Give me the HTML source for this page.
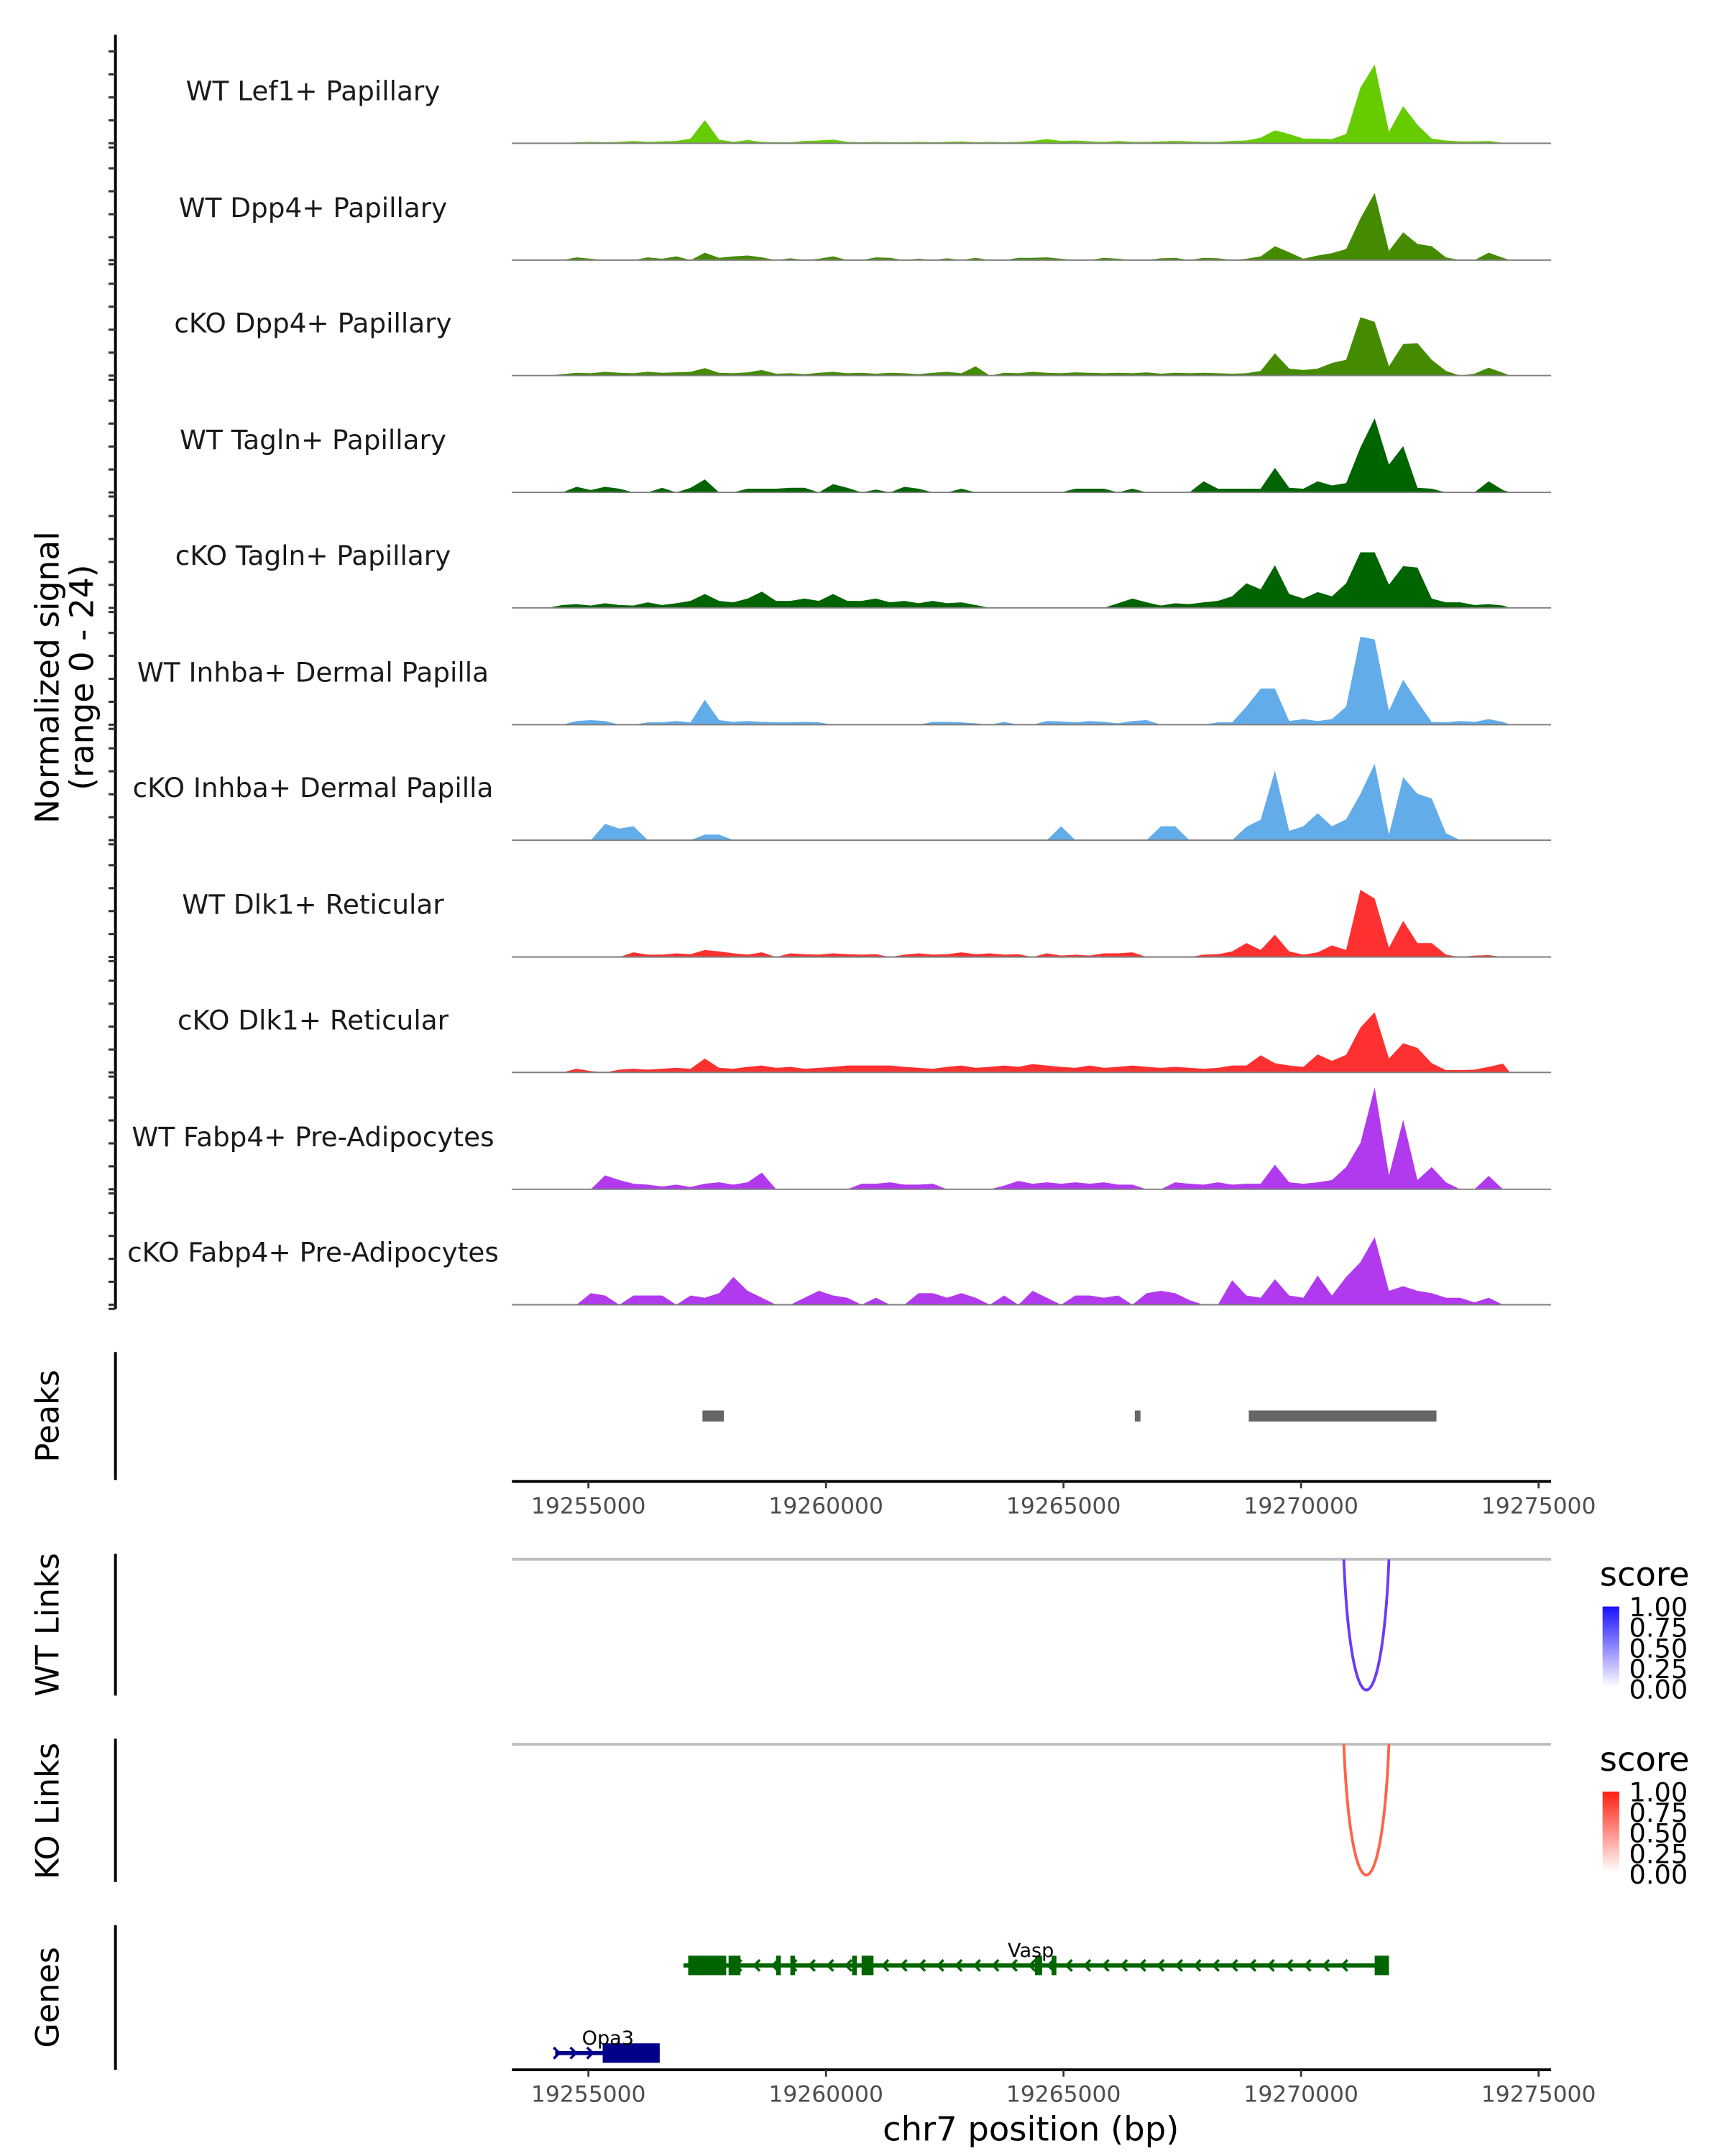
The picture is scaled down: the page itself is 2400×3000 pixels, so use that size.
<!DOCTYPE html>
<html><head><meta charset="utf-8"><style>
html,body{margin:0;padding:0;background:#fff;}
svg{display:block;}
text{font-family:"DejaVu Sans","Liberation Sans",sans-serif;}
</style></head>
<body>
<svg id="chart" xmlns="http://www.w3.org/2000/svg" width="2400" height="3000" viewBox="0 0 1240 1550" preserveAspectRatio="none">
<defs>
<linearGradient id="gWT" x1="0" y1="1" x2="0" y2="0"><stop offset="0" stop-color="#ffffff"/><stop offset="1" stop-color="#1a10ff"/></linearGradient>
<linearGradient id="gKO" x1="0" y1="1" x2="0" y2="0"><stop offset="0" stop-color="#ffffff"/><stop offset="1" stop-color="#ff2010"/></linearGradient>
</defs>
<g id="tracks"></g>
<g id="lower"></g>
</svg>
<script>
// ---- data ----
const binStart = 19254000;
const binSize = 300;
const trackNames = ["WT Lef1+ Papillary","WT Dpp4+ Papillary","cKO Dpp4+ Papillary","WT Tagln+ Papillary","cKO Tagln+ Papillary","WT Inhba+ Dermal Papilla","cKO Inhba+ Dermal Papilla","WT Dlk1+ Reticular","cKO Dlk1+ Reticular","WT Fabp4+ Pre-Adipocytes","cKO Fabp4+ Pre-Adipocytes"];
const trackColors = ["#66cc00","#458b00","#458b00","#006400","#006400","#63acea","#63acea","#ff3030","#ff3030","#b23aee","#b23aee"];
const wtLef1 = [0,0,0.2,0.3,0.2,0.3,0.5,0.3,0.4,0.5, 1.0,5.0,0.8,0.3,0.7,0.3,0.2,0.2,0.5,0.6, 0.8,0.3,0.2,0.3,0.2,0.2,0.3,0.2,0.3,0.4, 0.2,0.3,0.2,0.3,0.5,0.9,0.5,0.6,0.4,0.3, 0.5,0.3,0.3,0.4,0.5,0.4,0.3,0.3,0.5,0.6, 1.2,2.8,2.0,1.0,1.0,0.9,2.0,12,17,2.5, 8,4,1.0,0.6,0.4,0.4,0.5,0.1];
const wtDpp4 = [0,0,0.6,0.3,0,0,0,0.6,0.3,0.8, 0,1.6,0.5,0.8,1.0,0.6,0,0.4,0,0.3, 0.8,0,0,0.6,0.5,0,0.3,0,0.4,0, 0.5,0,0,0.5,0.5,0.6,0.3,0,0,0.5, 0.3,0,0,0.4,0.5,0,0.5,0.4,0,0.3, 0.8,3,1.7,0.3,1,1.5,2.4,9,14.5,2, 6,3.5,3,0.6,0,0,1.6,0.5];
const ckoDpp4 = [0,0.3,0.6,0.5,0.8,0.6,0.5,0.8,0.6,0.7, 0.8,1.6,0.6,0.5,0.7,1.2,0.4,0.5,0.3,0.6, 0.8,0.5,0.6,0.4,0.6,0.5,0.3,0.6,0.8,0.5, 2.0,0,0.6,0.5,0.8,0.6,0.5,0.7,0.6,0.5, 0.6,0.5,0.7,0.4,0.6,0.5,0.6,0.5,0.4,0.5, 1.0,4.8,1.5,1.2,1.5,2.7,3.4,12.6,11.6,2, 6.8,7,3.4,1,0,0.4,1.7,0.6];
const wtTagln = [0,0,1.2,0.5,1.2,0.8,0,0,1,0, 1.0,2.8,0,0,0.8,0.8,0.8,1.0,1.0,0, 1.8,1.0,0,0.6,0,1.2,0.8,0,0,0.8, 0,0,0,0,0,0,0,0.8,0.8,0.8, 0,0.8,0,0,0,0,2.4,0.8,0.8,0.8, 0.8,5.3,1.0,0.8,2.4,1.5,2.0,9.7,16,6, 10,1,0.8,0,0,0,2.4,0.5];
const ckoTagln = [0,0.6,0.8,0.5,1.0,0.6,0.5,1.2,0.6,1.0, 1.5,3,1.5,1.2,2,3.5,1.5,1.5,2.0,1.5, 3,1.5,1.5,2.0,1.2,1.5,1.0,1.5,1.0,1.2, 0.6,0,0,0,0,0,0,0,0,0, 1.0,2.0,1.2,0.5,1.0,0.8,1.2,1.5,2.5,5.3, 4,9.2,3,2,3.4,2.5,5.3,12,12,5, 9,8.7,2,1.2,1.2,0.6,0.8,0.5];
const wtInhba = [0,0,0.8,1.0,0.8,0,0,0.5,0.5,0.8, 0.5,5.4,1.0,0.6,0.8,0.6,0.5,0.5,0.6,0.5, 0,0,0,0,0,0,0,0.6,0.6,0.5, 0.3,0,0.6,0,0,0.8,0.7,0.5,0.8,0.6, 0.3,0.8,1.0,0,0,0,0,0.5,0.5,3.9, 7.8,7.8,0.8,1.2,0.8,1.2,3.9,19,18.4,3, 9.7,5,0.6,0.5,0.8,0.6,1.2,0.6];
const ckoInhba = [0,0,0,0,3.5,2.5,3,0,0,0, 0,1.2,1.2,0,0,0,0,0,0,0, 0,0,0,0,0,0,0,0,0,0, 0,0,0,0,0,0,3,0,0,0, 0,0,0,3,3,0,0,0,0,2.9, 4.4,15,2,3,5.8,3,4.5,10,16.5,1.2, 13.6,10,9,1.5,0,0,0,0];
const wtDlk1 = [0,0,0,0,0,0,1.0,0.5,0.5,0.8, 0.6,1.5,1.2,0.8,0.5,1.0,0,0.8,0.6,0.5, 0.8,0.6,0.5,0.6,0,0.5,0.8,0.5,0.6,1.0, 0.6,0.8,0.5,0.6,0,0.8,0.3,0.5,0.3,0.8, 0.8,1.0,0,0,0,0,0.5,0.6,1.2,3, 1.5,4.8,1.2,0.5,1.0,2.5,1.5,14.5,12.6,2, 7.8,3,3,0.5,0,0.3,0.4,0];
const ckoDlk1 = [0,0,0.8,0.3,0,0.6,0.8,0.6,0.8,1.0, 0.8,3,1.0,0.8,1.2,1.5,1.0,1.2,0.8,1.0, 1.2,1.5,1.5,1.5,1.5,1.2,1.0,0.8,1.2,1.5, 1.0,1.2,1.5,1.2,1.8,1.5,1.2,1.0,1.5,1.0, 1.2,1.5,1.2,1.0,1.2,1.0,0.8,1.0,1.5,1.5, 3.7,2,1.5,1.2,3.9,2.5,3.8,9.7,13,3, 6.3,5.3,2,0.5,0.5,0.6,1.2,1.9];
const wtFabp4 = [0,0,0,0,3,2,1.2,1.0,0.6,1.0, 0.5,1.2,1.5,1.0,1.5,3.6,0,0,0,0, 0,0,1.2,1.2,1.5,1.0,1.0,1.2,0,0, 0,0,0.8,1.8,1.2,1.5,1.2,1.5,1.2,1.5, 1.0,1.0,0,0,1.5,1.2,1.0,1.5,1.0,1.2, 1.2,5.3,1.5,1.2,1.5,2,4.8,10,22,3, 15,2,4.8,1.5,0,0,2.9,0];
const ckoFabp4 = [0,0,0,2.5,2,0,2,2,2,0, 2,1.5,2.5,6,3,1.5,0,0,1.5,3, 2,1.5,0,1.5,0,0,2.5,2.5,1.5,2.5, 1.5,0,2,0,3,1.5,0,2,2,1.5, 2,0,2.5,3,2.5,1.0,0,0,5.3,2, 1.5,5.5,2,1.5,6.3,2,6,9.2,14.6,3, 4,3,2.5,1.5,1.5,0.5,1.5,0];
const trackValues = [wtLef1,wtDpp4,ckoDpp4,wtTagln,ckoTagln,wtInhba,ckoInhba,wtDlk1,ckoDlk1,wtFabp4,ckoFabp4];
const xTicks = [19255000,19260000,19265000,19270000,19275000];
const peakStarts = [19257400,19266500,19268900];
const peakEnds = [19257850,19266620,19272850];
const linkStart = [19270900];
const linkEnd = [19271850];
const linkScoreWT = [0.72];
const linkScoreKO = [0.70];
const legendTicks = ["1.00","0.75","0.50","0.25","0.00"];
const vaspExonStart = [19257100,19257950,19258950,19259250,19260550,19260750,19264400,19264750,19271550];
const vaspExonEnd = [19257900,19258200,19259050,19259350,19260650,19261000,19264550,19264850,19271850];
const opa3ExonStart = [19255300];
const opa3ExonEnd = [19256500];

// ---- scales ----
const SVGNS = "http://www.w3.org/2000/svg";
const X0 = 423, PXPB = 170.75/5000;
function xs(bp){ return X0 + (bp-19255000)*PXPB; }
const UNIT = 3.33;
function el(tag, attrs, parent){ const e=document.createElementNS(SVGNS,tag); for(const k in attrs) e.setAttribute(k,attrs[k]); parent.appendChild(e); return e; }
const tracks = document.getElementById('tracks');
const lower = document.getElementById('lower');
const TX1 = 368, TX2 = 1115;
const baselines = [103,187,270,354,437,521,604,688,771,855,938];

let a = el('line',{x1:83,y1:25,x2:83,y2:941,stroke:'#000','stroke-width':2},tracks);


baselines.forEach(function(b,ti){
  for(let k=0;k<5;k++){
    let t = el('line',{x1:78,y1:b-k*16.5,x2:83,y2:b-k*16.5,stroke:'#333','stroke-width':1.6},tracks);
    
    
  }
  let t2 = el('line',{x1:78,y1:b+3,x2:83,y2:b+3,stroke:'#333','stroke-width':1.6},tracks);
  
  
});
let yt = el('text',{x:0,y:0,'font-size':23.5,'text-anchor':'middle',transform:'translate(42,487) rotate(-90)'},tracks);
yt.textContent='Normalized signal';


let yt2 = el('text',{x:0,y:0,'font-size':23.5,'text-anchor':'middle',transform:'translate(67,487) rotate(-90)'},tracks);
yt2.textContent='(range 0 - 24)';



trackValues.forEach(function(vals,ti){
  const b = baselines[ti];
  let pts = [];
  pts.push(xs(binStart)+','+b);
  vals.forEach(function(v,i){
    const xc = xs(binStart + binSize*i + binSize/2);
    pts.push(xc.toFixed(2)+','+(b - v*UNIT).toFixed(2));
  });
  pts.push(xs(binStart+binSize*vals.length)+','+b);
  let p = el('polygon',{points:pts.join(' '),fill:trackColors[ti]},tracks);
  
  
  let bl = el('line',{x1:TX1,y1:b,x2:TX2,y2:b,stroke:'#7f7f7f','stroke-width':1},tracks);
  
  
  let lb = el('text',{x:225,y:b-31,'font-size':19.3,'text-anchor':'middle',fill:'#1a1a1a'},tracks);
  lb.textContent = trackNames[ti];
  
  
});

function sideLabel(text,y,y1,y2,name){
  let t = el('text',{x:0,y:0,'font-size':23,'text-anchor':'middle',transform:'translate(42,'+y+') rotate(-90)'},lower);
  t.textContent=text;
  
  
  let l = el('line',{x1:83,y1:y1,x2:83,y2:y2,stroke:'#000','stroke-width':2},lower);
  
  
}
sideLabel('Peaks',1018,972,1064,'peaks');
sideLabel('WT Links',1168,1117,1219,'wt-links');
sideLabel('KO Links',1302,1250,1353,'ko-links');
sideLabel('Genes',1436,1384,1488,'genes');

peakStarts.forEach(function(s,i){
  let r = el('rect',{x:xs(s),y:1014,width:xs(peakEnds[i])-xs(s),height:8,fill:'#666666'},lower);
  
  
});

function xAxis(y,name){
  let l = el('line',{x1:TX1,y1:y,x2:TX2,y2:y,stroke:'#000','stroke-width':2},lower);
  
  
  xTicks.forEach(function(v){
    let t = el('line',{x1:xs(v),y1:y,x2:xs(v),y2:y+5,stroke:'#333','stroke-width':1.4},lower);
    
    
    let tx = el('text',{x:xs(v),y:y+23,'font-size':16.2,'text-anchor':'middle',fill:'#4d4d4d'},lower);
    tx.textContent = String(v);
    
    
  });
}
xAxis(1065,'peaks-x-axis');
xAxis(1488,'x-axis');
let xt = el('text',{x:741,y:1539,'font-size':24,'text-anchor':'middle'},lower);
xt.textContent='chr7 position (bp)';



function links(top,score,color,grad,name){
  let g = el('line',{x1:TX1,y1:top,x2:TX2,y2:top,stroke:'#bebebe','stroke-width':2},lower);
  
  
  linkStart.forEach(function(s,i){
    const x1=xs(s), x2=xs(linkEnd[i]);
    const depth = 94/0.75;
    let p = el('path',{d:'M'+x1+','+top+' C'+(x1+5)+','+(top+depth)+' '+(x2-5)+','+(top+depth)+' '+x2+','+top,fill:'none',stroke:color,'stroke-width':2},lower);
    
    
  });
  const ly = top+34;
  let st = el('text',{x:1150,y:top+19,'font-size':24},lower);
  st.textContent='score';
  
  
  let r = el('rect',{x:1152,y:ly,width:12,height:58,fill:'url(#'+grad+')'},lower);
  
  
  legendTicks.forEach(function(t,i){
    let tx = el('text',{x:1171,y:ly+7+i*14.8,'font-size':19},lower);
    tx.textContent=t;
    
    
  });
}
links(1121,linkScoreWT,'#6a3cf5','gWT','wt-links');
links(1254,linkScoreKO,'#ff6347','gKO','ko-links');

function chevrons(x1,x2,y,dir,color,step){
  for(let x=x1; x<=x2; x+=step){
    const d = dir<0 ? 'M'+(x+3)+','+(y-4)+' L'+(x-1)+','+y+' L'+(x+3)+','+(y+4) : 'M'+(x-3)+','+(y-4)+' L'+(x+1)+','+y+' L'+(x-3)+','+(y+4);
    let c = el('path',{d:d,fill:'none',stroke:color,'stroke-width':1.8},lower);
    
    
  }
}
const vy=1413;
let vl = el('line',{x1:xs(19257000),y1:vy,x2:xs(19271850),y2:vy,stroke:'#006400','stroke-width':3},lower);


chevrons(530,975,vy,-1,'#006400',13.2);
vaspExonStart.forEach(function(s,i){
  let r = el('rect',{x:xs(s),y:vy-7,width:xs(vaspExonEnd[i])-xs(s),height:14,fill:'#006400'},lower);
  
  
});
let vt = el('text',{x:741,y:1407,'font-size':14,'text-anchor':'middle'},lower);
vt.textContent='Vasp';


const oy=1476;
let ol = el('line',{x1:xs(19254300),y1:oy,x2:xs(19256500),y2:oy,stroke:'#00008b','stroke-width':3},lower);


chevrons(401,425,oy,1,'#00008b',12);
opa3ExonStart.forEach(function(s,i){
  let r = el('rect',{x:xs(s),y:oy-7,width:xs(opa3ExonEnd[i])-xs(s),height:14,fill:'#00008b'},lower);
  
  
});
let ot = el('text',{x:437,y:1470,'font-size':14,'text-anchor':'middle'},lower);
ot.textContent='Opa3';


</script>
</body></html>
